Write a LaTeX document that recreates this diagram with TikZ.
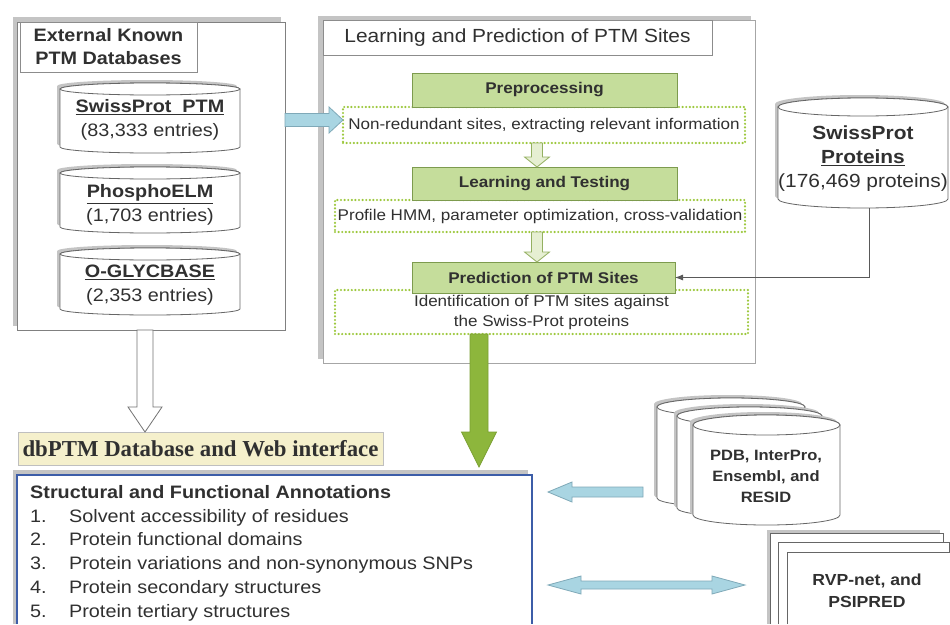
\documentclass[tikz,border=0pt]{standalone}
\usepackage{fontspec}
\setmainfont{Liberation Sans}[FakeStretch=1.1]
\newfontfamily\dbserif{Liberation Serif}
\usetikzlibrary{calc,arrows.meta}

\definecolor{TextGray}{HTML}{303030}
\definecolor{Shade}{HTML}{C4C4C4}
\definecolor{BoxGreen}{HTML}{C5DD9B}
\definecolor{BoxGreenLine}{HTML}{7D9B4E}
\definecolor{DotGreen}{HTML}{9CC83C}
\definecolor{SmallGreen}{HTML}{E6EFD2}
\definecolor{SmallGreenLine}{HTML}{94B061}
\definecolor{ArrowBlue}{HTML}{A9D5E2}
\definecolor{ArrowBlueLine}{HTML}{7FA9B8}
\definecolor{BigGreen}{HTML}{8DB63C}
\definecolor{BigGreenLine}{HTML}{7BA032}
\definecolor{FrameBlue}{HTML}{3C5DA8}
\definecolor{LabelYellow}{HTML}{F5F0CC}

\newcommand{\fsz}[2]{\fontsize{#1}{#2}\selectfont}

% database drum: x1, y1, x2, y2, ry
\newcommand{\dbcyl}[5]{%
  \fill[Shade, shift={(-3,-3)}] (#1,#2+#5) -- (#1,#4-#5)
    arc[start angle=180, end angle=0, x radius={(#3-#1)/2}, y radius=#5]
    -- (#3,#2+#5) arc[start angle=0, end angle=-180, x radius={(#3-#1)/2}, y radius=#5] -- cycle;
  \filldraw[cylline] (#1,#2+#5) -- (#1,#4-#5)
    arc[start angle=180, end angle=0, x radius={(#3-#1)/2}, y radius=#5]
    -- (#3,#2+#5) arc[start angle=0, end angle=-180, x radius={(#3-#1)/2}, y radius=#5] -- cycle;
  \draw[cylline] ({(#1+#3)/2},#2+#5) ellipse[x radius={(#3-#1)/2}, y radius=#5];
}

% block arrow: style, from, to, half shaft, half head, head length
\newcommand{\blockarr}[6]{%
  \coordinate (hb) at ($(#3)!#6!(#2)$);
  \draw[#1] ($(#2)!#4!90:(#3)$) -- ($(hb)!#4!90:(#3)$) -- ($(hb)!#5!90:(#3)$) -- (#3)
    -- ($(hb)!#5!-90:(#3)$) -- ($(hb)!#4!-90:(#3)$) -- ($(#2)!#4!-90:(#3)$) -- cycle;
}

% double block arrow: style, from, to, half shaft, half head, head length
\newcommand{\dblarr}[6]{%
  \coordinate (ha) at ($(#2)!#6!(#3)$);
  \coordinate (hb) at ($(#3)!#6!(#2)$);
  \draw[#1] (#2) -- ($(ha)!#5!90:(#3)$) -- ($(ha)!#4!90:(#3)$) -- ($(hb)!#4!90:(#3)$)
    -- ($(hb)!#5!90:(#3)$) -- (#3) -- ($(hb)!#5!-90:(#3)$) -- ($(hb)!#4!-90:(#3)$)
    -- ($(ha)!#4!-90:(#3)$) -- ($(ha)!#5!-90:(#3)$) -- cycle;
}

\begin{document}
\begin{tikzpicture}[x=1pt, y=-1pt,
  outerbox/.style={draw=black!50, fill=white, line width=0.8pt, inner sep=0pt, outer sep=0pt, anchor=north west},
  titlebox/.style={draw=black!45, fill=white, line width=0.8pt, inner sep=0pt, outer sep=0pt, anchor=north west, align=center, text=TextGray},
  cylline/.style={draw=black!60, fill=white, line width=0.8pt},
  cyltext/.style={align=center, font=\fsz{18}{24}, text=TextGray},
  greenbox/.style={draw=BoxGreenLine, fill=BoxGreen, line width=0.8pt, minimum width=265pt, inner sep=0pt, outer sep=0pt, font=\bfseries\fsz{15.5}{18}, text=TextGray},
  dotbox/.style={draw=DotGreen, line width=2.4pt, dash pattern=on 0pt off 3.6pt, line cap=round, inner sep=0pt, outer sep=0pt, align=center, font=\fsz{15.5}{20}, text=TextGray},
  bluearrow/.style={draw=ArrowBlueLine, fill=ArrowBlue, line width=0.8pt},
  hollowarrow/.style={draw=black!55, fill=white, line width=0.8pt},
  smallarrow/.style={draw=SmallGreenLine, fill=SmallGreen, line width=0.8pt},
  bigarrow/.style={draw=BigGreenLine, fill=BigGreen, line width=0.8pt},
  feedline/.style={draw=black!65, line width=0.8pt, -{Latex[length=8pt,width=6pt]}},
  paper/.style={draw=black!60, fill=white, line width=0.8pt},
  stacktext/.style={align=center, font=\bfseries\fsz{15}{21}, text=TextGray}]

 \useasboundingbox (0,0) rectangle (950,624);
 \fill[white] (0,0) rectangle (950,624);

 %%%%%%%%%% External known PTM databases %%%%%%%%%%
 \fill[Shade] (13,17) rectangle (281,326);
 \node[outerbox, minimum width=268pt, minimum height=308pt] (ext) at (17,22) {};
 \node[titlebox, minimum width=177pt, minimum height=50pt, font=\bfseries\fsz{18}{23}] (exttitle) at (20,22) {External Known\\PTM Databases};

 \dbcyl{60}{83}{240}{153}{6}
 \node[cyltext] (sptm) at (150,120) {\underline{\textbf{SwissProt\ \ PTM}}\\(83,333 entries)};
 \dbcyl{60}{167}{240}{233}{6}
 \node[cyltext] (pelm) at (150,205) {\underline{\textbf{PhosphoELM}}\\(1,703 entries)};
 \dbcyl{60}{248}{240}{315}{6}
 \node[cyltext] (oglyc) at (150,285) {\underline{\textbf{O-GLYCBASE}}\\(2,353 entries)};

 %%%%%%%%%% Learning and prediction %%%%%%%%%%
 \fill[Shade] (318,16) rectangle (751,359);
 \node[outerbox, draw=black!35, minimum width=432pt, minimum height=343pt] (learn) at (323,20) {};
 \node[titlebox, minimum width=389pt, minimum height=35pt, font=\fsz{19}{22}] (learntitle) at (323,20) {Learning and Prediction of PTM Sites};

 \node[dotbox, minimum width=402pt, minimum height=36pt] (prepnote) at (544,125) {Non-redundant sites, extracting relevant information};
 \node[dotbox, minimum width=410pt, minimum height=32pt] (ltnote) at (540,216) {Profile HMM, parameter optimization, cross-validation};
 \node[dotbox, minimum width=413pt, minimum height=44pt] (prednote) at (541.5,312) {Identification of PTM sites against\\the Swiss-Prot proteins};

 \node[greenbox, minimum height=34pt] (prep) at (544.5,90) {Preprocessing};
 \node[greenbox, minimum height=33pt] (lt) at (544.5,183.5) {Learning and Testing};
 \node[greenbox, minimum width=263pt, minimum height=31pt] (pred) at (543.5,277.5) {Prediction of PTM Sites};

 \blockarr{smallarrow}{537,0 |- prepnote.south}{537,0 |- lt.north}{5.5pt}{12.5pt}{10pt}
 \blockarr{smallarrow}{537,0 |- ltnote.south}{537,0 |- pred.north}{5.5pt}{12.5pt}{10pt}

 %%%%%%%%%% Databases into the learning %%%%%%%%%%
 \coordinate (exta) at ($(ext.north east)+(0,98)$);
 \blockarr{bluearrow}{exta}{prepnote.west |- exta}{6.5pt}{13pt}{14pt}

 %%%%%%%%%% SwissProt proteins %%%%%%%%%%
 \dbcyl{778}{98}{948}{208}{9}
 \node[cyltext, font=\fsz{19}{24}] (spprot) at (863,159) {\textbf{SwissProt}\\\underline{\textbf{Proteins}}\\(176,469 proteins)};
 \coordinate (spbot) at (869,208);
 \draw[feedline] (spbot) |- (pred.east);

 %%%%%%%%%% dbPTM %%%%%%%%%%
 \node[titlebox, draw=black!25, fill=LabelYellow, minimum width=365pt, minimum height=33pt, font=\dbserif\bfseries\fsz{22.8}{24}] (dbptm) at (18,432) {dbPTM Database and Web interface};
 \blockarr{hollowarrow}{145,0 |- ext.south}{145,0 |- dbptm.north}{8pt}{17pt}{25pt}

 %%%%%%%%%% Annotations %%%%%%%%%%
 \coordinate (fnw) at (17,475);
 \coordinate (fne) at (532,475);
 \fill[Shade] (13,470) rectangle (528,624);
 \fill[white] (fnw) rectangle (532,624);
 \draw[FrameBlue, line width=2.5pt] (17,624) -- (fnw) -- (fne) -- (532,624);
 \node[anchor=north west, inner sep=0pt, font=\fsz{18}{23.8}, text=TextGray] (annot) at (30,481.5) {%
   \begin{tabular}{@{}p{39pt}@{}l@{}}
   \multicolumn{2}{@{}l@{}}{\textbf{Structural and Functional Annotations}}\\
   1. & Solvent accessibility of residues\\
   2. & Protein functional domains\\
   3. & Protein variations and non-synonymous SNPs\\
   4. & Protein secondary structures\\
   5. & Protein tertiary structures
   \end{tabular}};

 \blockarr{bigarrow}{479,0 |- prednote.south}{$(479,0 |- fnw)+(0,-8)$}{9pt}{17.5pt}{35pt}

 %%%%%%%%%% PDB, InterPro, Ensembl, RESID %%%%%%%%%%
 \dbcyl{657}{398}{805}{507}{9}
 \dbcyl{677}{407}{822}{517}{9}
 \dbcyl{693}{415}{840}{525}{10}
 \node[stacktext] (pdb) at (766,476) {PDB, InterPro,\\Ensembl, and\\RESID};
 \coordinate (pdbout) at (643,492);
 \coordinate (annotin) at (548,492);
 \blockarr{bluearrow}{pdbout}{annotin}{5pt}{10pt}{24pt}

 %%%%%%%%%% RVP-net, PSIPRED %%%%%%%%%%
 \fill[Shade] (767,530) rectangle (940,624);
 \filldraw[paper] (770,624) -- (770,533) -- (943,533) -- (943,624);
 \filldraw[paper] (778,624) -- (778,542) -- (949,542) -- (949,624);
 \fill[white] (787,552) rectangle (950,624);
 \draw[paper] (787,624) -- (787,552) -- (950,552);
 \node[stacktext, font=\bfseries\fsz{16}{22}] (rvp) at (867,591) {RVP-net, and\\PSIPRED};
 \coordinate (rvpin) at (745,585);
 \coordinate (annotout) at (548,585);
 \dblarr{bluearrow}{annotout}{rvpin}{4pt}{9pt}{33pt}

\end{tikzpicture}
\end{document}
